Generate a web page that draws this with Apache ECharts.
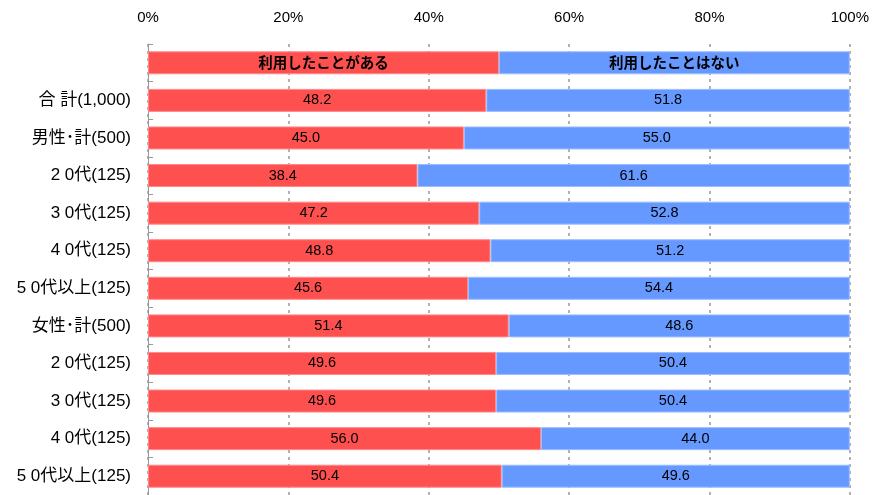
<!DOCTYPE html>
<html>
<head>
<meta charset="utf-8">
<style>
  html, body { margin: 0; padding: 0; background: #fff; }
  #chart { width: 872px; height: 495px; }
</style>
<script src="https://cdn.jsdelivr.net/npm/echarts@6/dist/echarts.min.js"></script>
</head>
<body>
<div id="chart"></div>
<script>
// 行ラベル（先頭は凡例の行）
const categories = ['', '合 計(1,000)', '男性･計(500)', '2 0代(125)', '3 0代(125)', '4 0代(125)',
  '5 0代以上(125)', '女性･計(500)', '2 0代(125)', '3 0代(125)', '4 0代(125)', '5 0代以上(125)'];
const usedValues = [50, 48.2, 45.0, 38.4, 47.2, 48.8, 45.6, 51.4, 49.6, 49.6, 56.0, 50.4];
const notUsedValues = [50, 51.8, 55.0, 61.6, 52.8, 51.2, 54.4, 48.6, 50.4, 50.4, 44.0, 49.6];
const seriesNames = ['利用したことがある', '利用したことはない'];
const xTicks = [0, 20, 40, 60, 80, 100];

const FONT = '"Liberation Sans", "Noto Sans CJK JP", sans-serif';

function makeData(values, name) {
    return values.map(function (v, i) {
        if (i === 0) {
            return {
                value: v,
                label: { formatter: name, fontWeight: 'bold', fontFamily: '"Noto Sans CJK JP", sans-serif', fontSize: 14.5 }
            };
        }
        return v;
    });
}

const chart = echarts.init(document.getElementById('chart'));

const option = {
    animation: false,
    textStyle: { fontFamily: FONT },
    grid: { left: 148, right: 21, top: 44, height: 455 },
    xAxis: {
        type: 'value',
        position: 'top',
        min: xTicks[0],
        max: xTicks[xTicks.length - 1],
        interval: 20,
        axisLine: { show: false },
        axisTick: { show: false },
        axisLabel: { formatter: '{value}%', fontSize: 15, color: '#000', margin: 19, fontFamily: FONT },
        splitLine: { show: true, lineStyle: { color: '#999', type: [3, 4], width: 1.5 } }
    },
    yAxis: {
        type: 'category',
        inverse: true,
        data: categories,
        axisLine: { show: true, lineStyle: { color: '#999' } },
        axisTick: { show: true, inside: true, length: 5, lineStyle: { color: '#999' } },
        axisLabel: { fontSize: 17, color: '#000', margin: 17, fontFamily: FONT }
    },
    series: [
        {
            name: seriesNames[0],
            type: 'bar',
            stack: 'total',
            barWidth: 23,
            data: makeData(usedValues, seriesNames[0]),
            itemStyle: { color: '#FF5050', borderColor: '#FF8A8A', borderWidth: 1 },
            label: {
                show: true, position: 'inside', color: '#000', fontSize: 14.5, fontFamily: FONT,
                formatter: function (p) { return p.value.toFixed(1); }
            }
        },
        {
            name: seriesNames[1],
            type: 'bar',
            stack: 'total',
            barWidth: 23,
            data: makeData(notUsedValues, seriesNames[1]),
            itemStyle: { color: '#6699FF', borderColor: '#9DBDFF', borderWidth: 1 },
            label: {
                show: true, position: 'inside', color: '#000', fontSize: 14.5, fontFamily: FONT,
                formatter: function (p) { return p.value.toFixed(1); }
            }
        }
    ]
};

chart.setOption(option);
</script>
</body>
</html>
